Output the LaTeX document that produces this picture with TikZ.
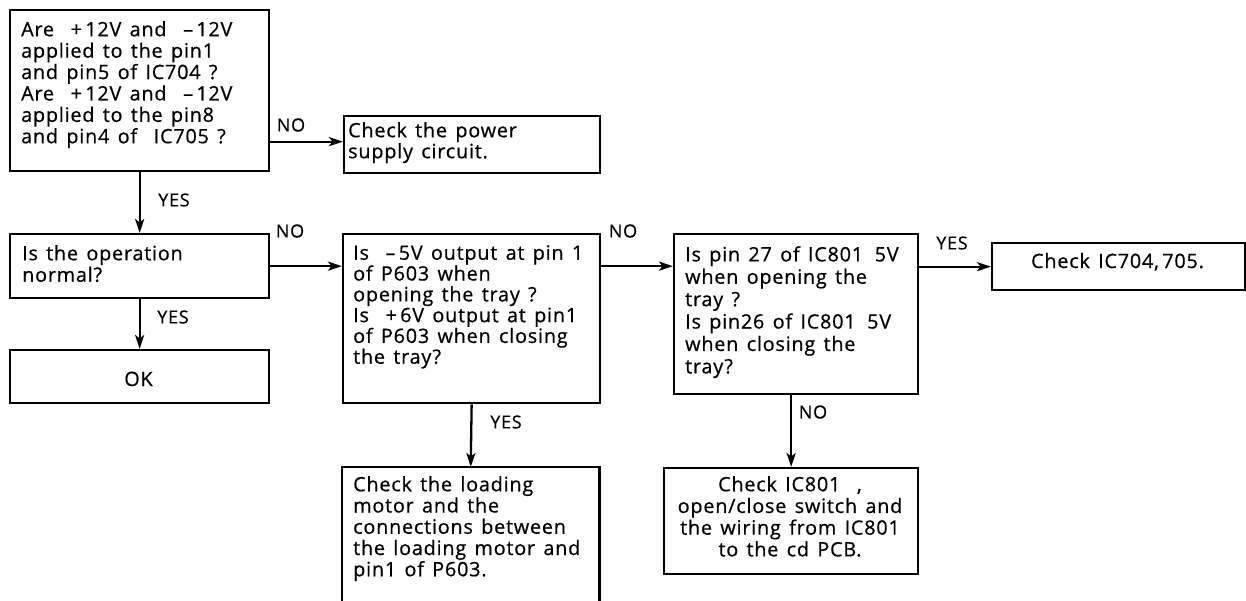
\documentclass[tikz,border=0pt]{standalone}
\usepackage{fontspec}
\setmainfont{Open Sans}[LetterSpace=4,WordSpace=1.4,FakeBold=0.6]
\usetikzlibrary{arrows.meta,calc}
\tikzset{
  box/.style={draw,line width=2.3pt,inner sep=0pt,anchor=north west},
  openbox/.style={inner sep=0pt,anchor=north west},
  txt/.style={anchor=north west,inner sep=0pt,align=left},
  ctxt/.style={inner sep=0pt,align=center},
  lbl/.style={inner sep=0pt,font=\fontsize{18}{18}\selectfont},
  arr/.style={line width=2.3pt,-{Stealth[length=14pt,width=9pt,inset=3.5pt]}},
}
\newcommand{\fs}[1]{\fontsize{19.8}{#1}\selectfont}
\begin{document}
\begin{tikzpicture}[x=1pt,y=-1pt]
\useasboundingbox (0,0) rectangle (1246,600);
% boxes
\node[box,minimum width=259pt,minimum height=161pt] (A) at (9,9) {};
\node[box,minimum width=256pt,minimum height=57pt] (B) at (343,115) {};
\node[box,minimum width=259pt,minimum height=64pt] (C) at (9,233) {};
\node[box,minimum width=259pt,minimum height=53pt] (OK) at (9,349) {};
\node[box,minimum width=257pt,minimum height=169pt] (D) at (342,233) {};
\node[box,minimum width=244pt,minimum height=160pt] (E) at (673,233) {};
\node[box,minimum width=253pt,minimum height=47pt] (H) at (991,242) {};
\node[openbox,minimum width=257pt,minimum height=136pt] (F) at (342,467) {};
\draw[line width=2.3pt] (F.south west) -- (F.north west) -- (F.north east) -- (F.south east);
\node[box,minimum width=254pt,minimum height=106pt] (G) at (663,467) {};
% texts
\node[txt,font=\fs{21.4}] (At) at (21,21) {Are \ +\,12V and \ –\,12V\\applied to the pin1\\and pin5 of IC704 ?\\Are \ +\,12V and \ –\,12V\\applied to the pin8\\and pin4 of \ IC705 ?};
\node[txt,font=\fs{21}] (Bt) at (348,122) {Check the power\\supply circuit.};
\node[txt,font=\fs{21.5}] (Ct) at (22,245) {Is the operation\\normal?};
\node[ctxt,font=\fs{21},anchor=base] (OKt) at (138.5,386) {OK};
\node[txt,font=\fs{20.8}] (Dt) at (353,245) {Is \ –\,5V output at pin 1\\of P603 when\\opening the tray ?\\Is \ +\,6V output at pin1\\of P603 when closing\\the tray?};
\node[txt,font=\fs{22.4}] (Et) at (685,246) {Is pin 27 of IC801 \,5V\\when opening the\\tray ?\\Is pin26 of IC801 \,5V\\when closing the\\tray?};
\node[ctxt,font=\fs{21},anchor=base] (Ht) at (1117.5,268) {Check IC704,\,705.};
\node[txt,font=\fs{21.25}] (Ft) at (353,476) {Check the loading\\motor and the\\connections between\\the loading motor and\\pin1 of P603.};
\node[ctxt,font=\fs{21.7},anchor=north] (Gt) at (790,476) {Check IC801 \ ,\\open/close switch and\\the wiring from IC801\\to the cd PCB.};
% connectors
\draw[arr] ([yshift=3pt]A.east |- B.west) -- ([yshift=3pt]B.west);
\draw[arr] (A.south) -- (C.north);
\draw[arr] (C.east) -- (C.east -| D.west);
\draw[arr] (C.east -| D.east) -- (C.east -| E.west);
\draw[arr] (H.west -| E.east) -- (H.west);
\draw[arr] (C.south) -- (OK.north);
\draw[arr] (D.south) -- (F.north);
\draw[arr] (G.north |- E.south) -- (G.north);
% labels
\node[lbl] (l1) at (291,125) {NO};
\node[lbl] (l2) at (174,200) {YES};
\node[lbl] (l3) at (290,231) {NO};
\node[lbl] (l4) at (173,317) {YES};
\node[lbl] (l5) at (623,231) {NO};
\node[lbl] (l6) at (506,422) {YES};
\node[lbl] (l7) at (813,412) {NO};
\node[lbl] (l8) at (952,243) {YES};
\end{tikzpicture}
\end{document}
